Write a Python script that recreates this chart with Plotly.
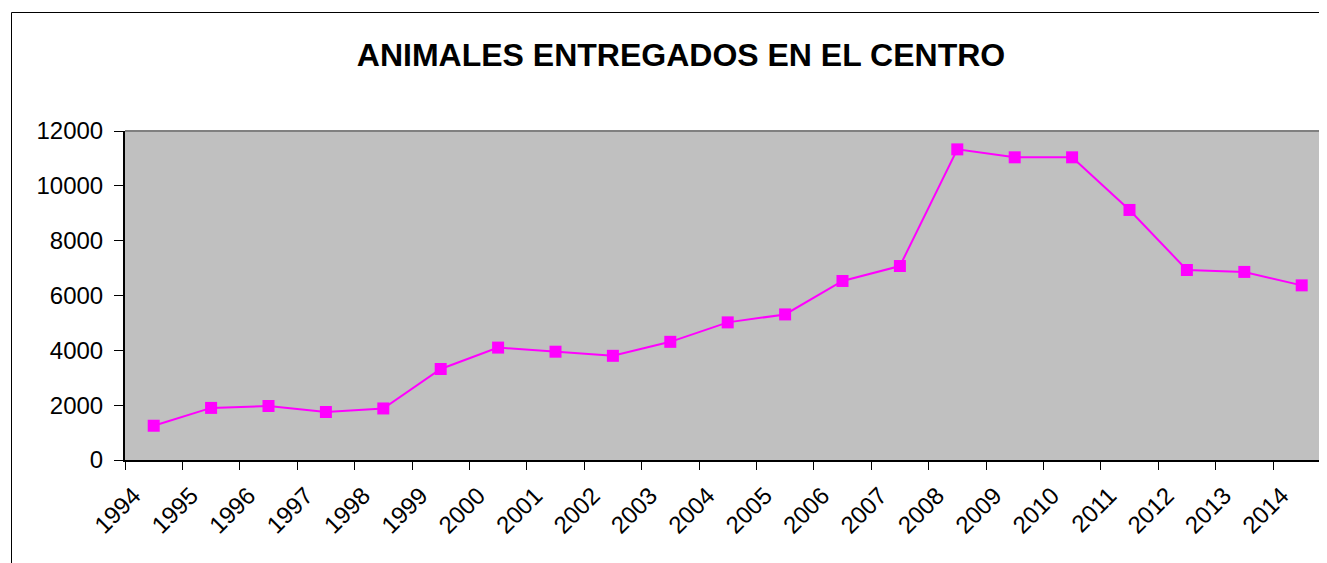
import plotly.graph_objects as go

years = ["1994", "1995", "1996", "1997", "1998", "1999", "2000", "2001", "2002", "2003",
         "2004", "2005", "2006", "2007", "2008", "2009", "2010", "2011", "2012", "2013", "2014"]
animales = [1250, 1900, 1970, 1750, 1880, 3320, 4100, 3950, 3800, 4310,
            5020, 5310, 6530, 7075, 11330, 11040, 11040, 9120, 6930, 6860, 6370]
y_ticks = [0, 2000, 4000, 6000, 8000, 10000, 12000]
y_ticktext = ["0", "2000", "4000", "6000", "8000", "10000", "12000"]
title_text = "ANIMALES ENTREGADOS EN EL CENTRO"

OFF = 8  # page body margin
W, H = 1327 - OFF, 563 - OFF
L, T = 125 - OFF, 131 - OFF
B = H - (460 - OFF)
plot_w = W - L
plot_h = H - T - B

def px_x(p):
    return (p - OFF - L) / plot_w

def px_y(p):
    return (H - B - (p - OFF)) / plot_h

fig = go.Figure()
fig.add_trace(go.Scatter(
    x=years, y=animales, mode="lines+markers",
    line=dict(color="#FF00FF", width=2),
    marker=dict(symbol="square", size=12, color="#FF00FF"),
    cliponaxis=False,
))

font_family = "Arial, Liberation Sans, sans-serif"
fig.update_layout(
    width=W, height=H,
    margin=dict(l=L, r=0, t=T, b=B),
    paper_bgcolor="white",
    plot_bgcolor="#C0C0C0",
    showlegend=False,
    font=dict(family=font_family, color="black"),
    title=dict(text="<b>" + title_text + "</b>", font=dict(size=32, family=font_family, color="black"),
               x=px_x(681), xref="paper", xanchor="center",
               y=1 - (55 - OFF) / H, yref="container", yanchor="middle"),
    xaxis=dict(
        type="category",
        range=[-0.5, 20.5 - 3.4 / 57.4],
        tickson="boundaries",
        ticks="outside", ticklen=8, tickwidth=1, tickcolor="black",
        showline=True, linecolor="black", linewidth=2,
        showgrid=False, zeroline=False,
        tickangle=-45,
        tickfont=dict(size=24, family=font_family, color="black"),
        ticklabelshift=-20,
        ticklabelstandoff=10,
    ),
    yaxis=dict(
        range=[0, 12000],
        tickvals=y_ticks,
        ticktext=y_ticktext,
        ticks="outside", ticklen=9, tickwidth=1, tickcolor="black",
        showline=True, linecolor="black", linewidth=2,
        showgrid=False, zeroline=False,
        tickfont=dict(size=24, family=font_family, color="black"),
        ticklabelstandoff=6,
    ),
    shapes=[
        dict(type="line", xref="paper", yref="paper", x0=0, x1=1.01, y0=1, y1=1,
             line=dict(color="#808080", width=2)),
        dict(type="rect", xref="paper", yref="paper",
             x0=px_x(11.5), x1=1.05, y0=px_y(12.5), y1=px_y(620),
             line=dict(color="black", width=1), fillcolor="rgba(0,0,0,0)", layer="below"),
    ],
)

fig.write_html("out.html")
